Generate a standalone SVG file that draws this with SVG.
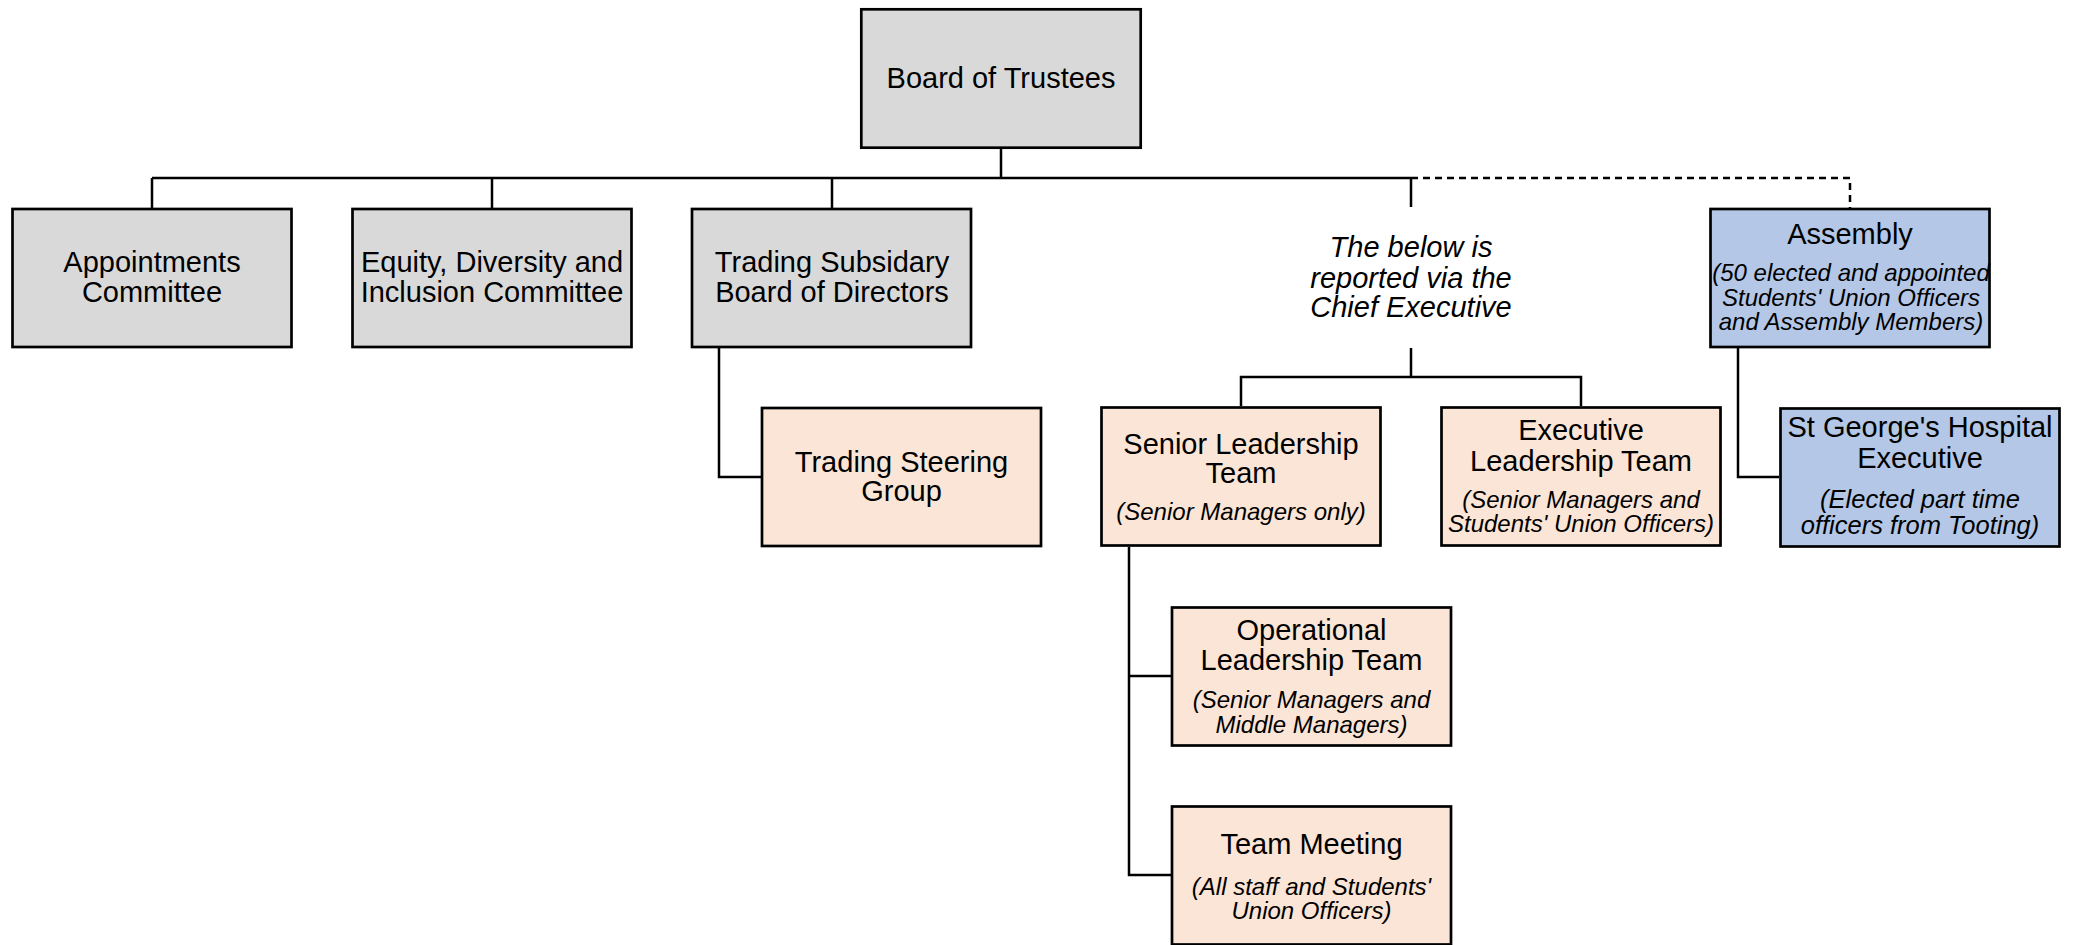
<svg xmlns="http://www.w3.org/2000/svg" width="2078" height="945" viewBox="0 0 2078 945">
<style>
.box{stroke:#000;stroke-width:2.7}
.grey{fill:#d9d9d9}
.peach{fill:#fbe5d6}
.blue{fill:#b4c7e7}
text{font-family:"Liberation Sans",Arial,sans-serif;text-anchor:middle;fill:#000}
.t{font-size:29px}
.s{font-size:24px;font-style:italic}
.s26{font-size:25.5px;font-style:italic}
.n{font-size:29px;font-style:italic}
.ln{fill:none;stroke:#000;stroke-width:2.5}
.dash{stroke-dasharray:7 5}
</style>
<rect width="2078" height="945" fill="#fff"/>
<g id="connectors">
<path class="ln" d="M1001,149 V178"/>
<path class="ln" d="M152,178 H1411"/>
<path class="ln" d="M152,178 V208 M492,178 V208 M832,178 V208 M1411,178 V207"/>
<path class="ln dash" d="M1411,178 H1850 V208"/>
<path class="ln" d="M719,348 V477 H761"/>
<path class="ln" d="M1411,348 V377 M1241,406 V377 H1581 V406"/>
<path class="ln" d="M1129,547 V875 H1171 M1129,676 H1171"/>
<path class="ln" d="M1738,348 V477 H1779"/>
</g>
<g id="board">
<rect class="box grey" x="861.3" y="9.3" width="279.4" height="138.4"/>
<text class="t" x="1001" y="87.5">Board of Trustees</text>
</g>
<g id="appointments">
<rect class="box grey" x="12.5" y="209" width="279" height="138"/>
<text class="t"><tspan x="152" y="272">Appointments</tspan><tspan x="152" y="302">Committee</tspan></text>
</g>
<g id="equity">
<rect class="box grey" x="352.5" y="209" width="279" height="138"/>
<text class="t"><tspan x="492" y="272">Equity, Diversity and</tspan><tspan x="492" y="302">Inclusion Committee</tspan></text>
</g>
<g id="trading-subsidary">
<rect class="box grey" x="692" y="209" width="279" height="138"/>
<text class="t"><tspan x="832" y="272">Trading Subsidary</tspan><tspan x="832" y="302">Board of Directors</tspan></text>
</g>
<g id="note">
<text class="n"><tspan x="1411" y="257">The below is</tspan><tspan x="1411" y="287.5">reported via the</tspan><tspan x="1411" y="317">Chief Executive</tspan></text>
</g>
<g id="assembly">
<rect class="box blue" x="1710.5" y="209" width="279" height="138"/>
<text class="t" x="1850" y="244">Assembly</text>
<text class="s"><tspan x="1851" y="281">(50 elected and appointed</tspan><tspan x="1851" y="305.5">Students' Union Officers</tspan><tspan x="1851" y="330">and Assembly Members)</tspan></text>
</g>
<g id="trading-steering">
<rect class="box peach" x="762" y="408" width="279" height="138"/>
<text class="t"><tspan x="901.5" y="472">Trading Steering</tspan><tspan x="901.5" y="501">Group</tspan></text>
</g>
<g id="senior-leadership">
<rect class="box peach" x="1101.5" y="407.5" width="279" height="138"/>
<text class="t"><tspan x="1241" y="453.5">Senior Leadership</tspan><tspan x="1241" y="482.5">Team</tspan></text>
<text class="s" x="1241" y="520">(Senior Managers only)</text>
</g>
<g id="executive-leadership">
<rect class="box peach" x="1441.5" y="407.5" width="279" height="138"/>
<text class="t"><tspan x="1581" y="440">Executive</tspan><tspan x="1581" y="471">Leadership Team</tspan></text>
<text class="s"><tspan x="1581" y="507.5">(Senior Managers and</tspan><tspan x="1581" y="532">Students' Union Officers)</tspan></text>
</g>
<g id="st-georges">
<rect class="box blue" x="1780.5" y="408.5" width="279" height="138"/>
<text class="t"><tspan x="1920" y="437">St George's Hospital</tspan><tspan x="1920" y="467.5">Executive</tspan></text>
<text class="s26"><tspan x="1920" y="507.5">(Elected part time</tspan><tspan x="1920" y="533.5">officers from Tooting)</tspan></text>
</g>
<g id="operational">
<rect class="box peach" x="1172" y="607.5" width="279" height="138"/>
<text class="t"><tspan x="1311.5" y="640">Operational</tspan><tspan x="1311.5" y="670">Leadership Team</tspan></text>
<text class="s"><tspan x="1311.5" y="707.5">(Senior Managers and</tspan><tspan x="1311.5" y="732.5">Middle Managers)</tspan></text>
</g>
<g id="team-meeting">
<rect class="box peach" x="1172" y="806.5" width="279" height="138"/>
<text class="t" x="1311.5" y="853.5">Team Meeting</text>
<text class="s"><tspan x="1311.5" y="895">(All staff and Students'</tspan><tspan x="1311.5" y="918.5">Union Officers)</tspan></text>
</g>
</svg>
